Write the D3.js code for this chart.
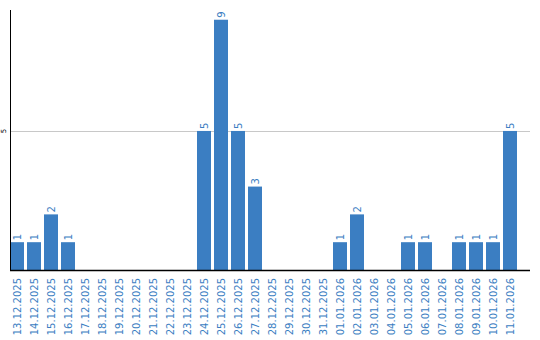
<!DOCTYPE html>
<html><head><meta charset="utf-8">
<script src="https://cdn.jsdelivr.net/npm/d3@7"></script>
<style>body{margin:0;background:#fff}svg{display:block}</style>
</head><body>
<script>
const dates = ["13.12.2025","14.12.2025","15.12.2025","16.12.2025","17.12.2025","18.12.2025","19.12.2025","20.12.2025","21.12.2025","22.12.2025","23.12.2025","24.12.2025","25.12.2025","26.12.2025","27.12.2025","28.12.2025","29.12.2025","30.12.2025","31.12.2025","01.01.2026","02.01.2026","03.01.2026","04.01.2026","05.01.2026","06.01.2026","07.01.2026","08.01.2026","09.01.2026","10.01.2026","11.01.2026"];
const counts = [1,1,2,1,0,0,0,0,0,0,0,5,9,5,3,0,0,0,0,1,2,0,0,1,1,0,1,1,1,5];
const yTicks = [5];

(function(){
const W = 540, H = 340;
const svg = d3.select("body").append("svg").attr("width", W).attr("height", H);
const mLeft = 10, mRight = 530, mTop = 10, mBottom = 270;
const color = "#3b7ec2";

const x = d3.scaleBand().domain(dates).range([mLeft, 517]).paddingInner(0.176).paddingOuter(0);
const y = d3.scaleLinear().domain([0, 9.35]).range([mBottom, mTop]);

svg.selectAll("line.grid").data(yTicks).enter().append("line")
  .attr("x1", mLeft).attr("x2", mRight)
  .attr("y1", d => Math.round(y(d)) + 0.5).attr("y2", d => Math.round(y(d)) + 0.5)
  .attr("stroke", "#c8c8c8").attr("stroke-width", 1);

svg.selectAll("text.yt").data(yTicks).enter().append("text")
  .attr("transform", d => `translate(6,${y(d)}) rotate(-90)`)
  .attr("text-anchor", "middle")
  .attr("font-family", "DejaVu Sans, Verdana, sans-serif").attr("font-size", 7)
  .attr("fill", "#000").text(d => d);

svg.selectAll("rect.bar").data(dates).enter().append("rect")
  .attr("x", d => Math.round(x(d)))
  .attr("width", Math.round(x.bandwidth()))
  .attr("y", (d, i) => y(counts[i]))
  .attr("height", (d, i) => mBottom - y(counts[i]))
  .attr("fill", color);

const withVal = dates.map((d, i) => ({d, v: counts[i]})).filter(o => o.v > 0);
svg.selectAll("text.val").data(withVal).enter().append("text")
  .attr("transform", o => `translate(${Math.round(x(o.d)) + x.bandwidth() / 2 + 4},${y(o.v) - 2}) rotate(-90)`)
  .attr("text-anchor", "start")
  .attr("font-family", "DejaVu Sans, Verdana, sans-serif").attr("font-size", 10)
  .attr("fill", color).text(o => o.v);

svg.append("line").attr("x1", mLeft + 0.5).attr("x2", mLeft + 0.5).attr("y1", mTop).attr("y2", mBottom)
  .attr("stroke", "#000").attr("stroke-width", 1);
svg.append("line").attr("x1", mLeft).attr("x2", mRight).attr("y1", mBottom + 0.5).attr("y2", mBottom + 0.5)
  .attr("stroke", "#000").attr("stroke-width", 1.5);

svg.selectAll("text.xl").data(dates).enter().append("text")
  .attr("transform", d => `translate(${Math.round(x(d)) + x.bandwidth() / 2 + 4},278) rotate(-90)`)
  .attr("text-anchor", "end")
  .attr("font-family", "DejaVu Sans, Verdana, sans-serif").attr("font-size", 10)
  .attr("fill", color).text(d => d);
})();
</script>
</body></html>
